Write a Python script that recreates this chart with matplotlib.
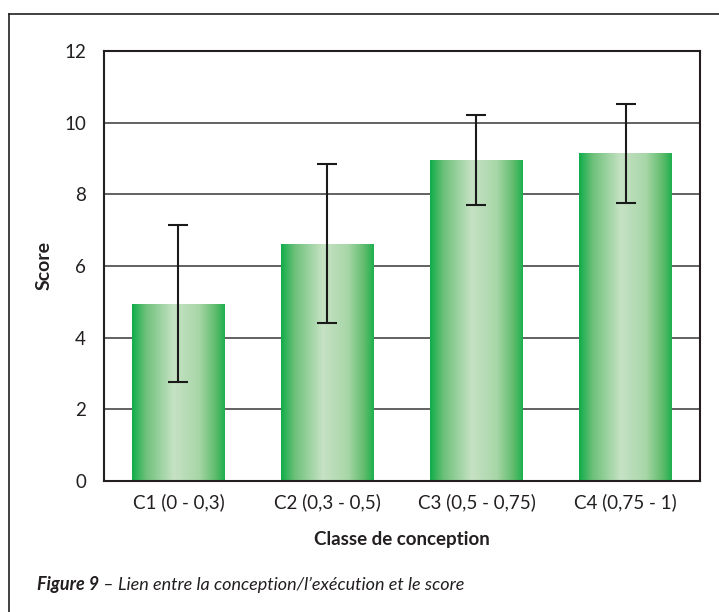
import numpy as np
import matplotlib
matplotlib.use("Agg")
import matplotlib.pyplot as plt
from matplotlib.colors import LinearSegmentedColormap
from matplotlib.lines import Line2D

# --- données ---
categories = ["C1 (0 - 0,3)", "C2 (0,3 - 0,5)", "C3 (0,5 - 0,75)", "C4 (0,75 - 1)"]
scores = [4.95, 6.62, 8.96, 9.15]
erreurs = [2.2, 2.22, 1.25, 1.38]
yticks = [0, 2, 4, 6, 8, 10, 12]

plt.rcParams['font.family'] = ['Lato', 'DejaVu Sans']

fig = plt.figure(figsize=(7.19, 6.12), dpi=100)
ax = fig.add_axes([0.1446, 0.2141, 0.8290, 0.7026])

# dégradé horizontal des barres
grad = LinearSegmentedColormap.from_list("vert", [
    (0.00, (16/255, 173/255, 74/255)),
    (0.15, (110/255, 193/255, 122/255)),
    (0.45, (198/255, 226/255, 196/255)),
    (0.72, (168/255, 214/255, 168/255)),
    (0.90, (95/255, 188/255, 108/255)),
    (1.00, (30/255, 176/255, 78/255)),
])

x = np.arange(len(categories))
bars = ax.bar(x, scores, width=0.62, facecolor="none", edgecolor="none", zorder=2)
g = np.linspace(0, 1, 256).reshape(1, -1)
for b in bars:
    x0, y0 = b.get_x(), b.get_y()
    w, h = b.get_width(), b.get_height()
    im = ax.imshow(g, cmap=grad, aspect="auto", extent=[x0, x0 + w, y0, y0 + h],
                   zorder=2, interpolation="bilinear")
    im.set_clip_path(b)

ax.errorbar(x, scores, yerr=erreurs, fmt="none", ecolor="#1a1a1a",
            elinewidth=1.5, capsize=7.5, capthick=1.5, zorder=3)

ax.set_xlim(-0.5, 3.5)
ax.set_ylim(0, 12)
ax.set_yticks(yticks)
ax.set_yticklabels([str(t) for t in yticks], fontsize=13.5, color="#231f20")
ax.set_xticks(x)
ax.set_xticklabels(categories, fontsize=13.5, color="#231f20")
ax.tick_params(length=0, pad=9)
ax.tick_params(axis="y", pad=13)
ax.yaxis.grid(True, color="#555555", linewidth=1.3)
ax.set_axisbelow(True)
for s in ax.spines.values():
    s.set_linewidth(1.5)
    s.set_color("#231f20")

ax.set_ylabel("Score", fontsize=14, fontweight="bold", labelpad=8, color="#231f20")
ax.set_xlabel("Classe de conception", fontsize=13.5, fontweight="bold", labelpad=14, color="#231f20")

# cadre
fig.add_artist(Line2D([9/719, 9/719], [0, 1 - 14/612], color="#231f20", lw=1.2))
fig.add_artist(Line2D([9/719, 1], [1 - 14/612, 1 - 14/612], color="#231f20", lw=1.2))

# légende de la figure
t1 = fig.text(37/719, 1 - 590/612, "Figure 9", fontsize=13, fontweight="bold",
              style="italic", color="#231f20")
ax.annotate(" – Lien entre la conception/l’exécution et le score", xy=(1, 0),
            xycoords=t1, va="bottom", ha="left", fontsize=13, style="italic",
            color="#231f20", annotation_clip=False)

fig.savefig("out.png", dpi=100)
